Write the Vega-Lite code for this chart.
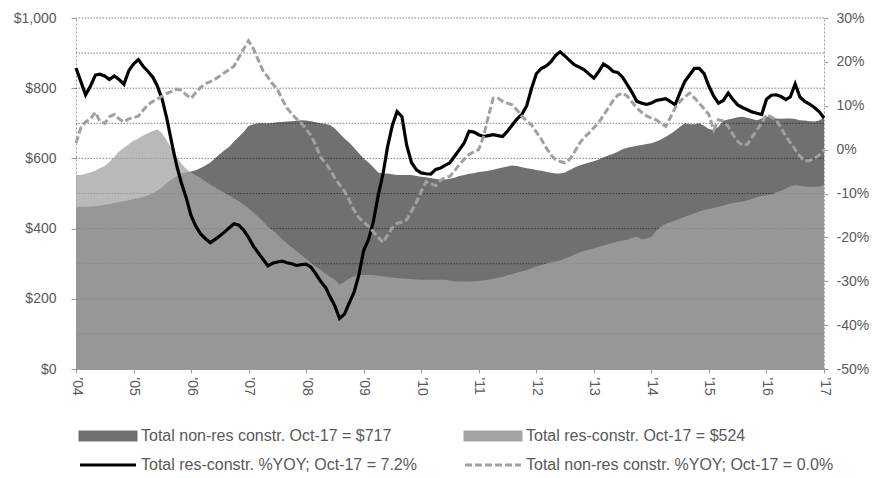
{
  "$schema": "https://vega.github.io/schema/vega-lite/v6.json",
  "width": 748,
  "height": 351,
  "autosize": {"type": "none"},
  "padding": {"left": 76, "top": 18, "right": 50, "bottom": 109},
  "config": {
    "font": "Liberation Sans",
    "view": {"stroke": null},
    "axis": {"labelFont": "Liberation Sans", "labelFontSize": 14, "labelColor": "#595959", "domainColor": "#999999", "tickColor": "#999999"}
  },
  "data": {"values": [
{"d":"2004-10-01","nr":462,"r":553,"ry":18.6,"nry":1.5},
{"d":"2004-11-01","nr":462,"r":553,"ry":15.5,"nry":5.0},
{"d":"2004-12-01","nr":462,"r":556,"ry":12.5,"nry":6.3},
{"d":"2005-01-01","nr":463,"r":560,"ry":14.5,"nry":7.0},
{"d":"2005-02-01","nr":464,"r":565,"ry":17.0,"nry":8.5},
{"d":"2005-03-01","nr":466,"r":572,"ry":17.2,"nry":6.5},
{"d":"2005-04-01","nr":468,"r":578,"ry":16.8,"nry":6.0},
{"d":"2005-05-01","nr":470,"r":590,"ry":16.0,"nry":7.5},
{"d":"2005-06-01","nr":473,"r":605,"ry":16.8,"nry":8.0},
{"d":"2005-07-01","nr":476,"r":620,"ry":16.0,"nry":7.0},
{"d":"2005-08-01","nr":478,"r":630,"ry":14.9,"nry":6.3},
{"d":"2005-09-01","nr":481,"r":640,"ry":18.0,"nry":7.0},
{"d":"2005-10-01","nr":484,"r":650,"ry":19.5,"nry":7.3},
{"d":"2005-11-01","nr":487,"r":657,"ry":20.5,"nry":7.6},
{"d":"2005-12-01","nr":491,"r":665,"ry":19.0,"nry":9.0},
{"d":"2006-01-01","nr":495,"r":672,"ry":17.8,"nry":10.2},
{"d":"2006-02-01","nr":500,"r":678,"ry":16.5,"nry":11.0},
{"d":"2006-03-01","nr":508,"r":682,"ry":14.5,"nry":11.5},
{"d":"2006-04-01","nr":518,"r":672,"ry":11.5,"nry":12.2},
{"d":"2006-05-01","nr":530,"r":650,"ry":7.0,"nry":12.8},
{"d":"2006-06-01","nr":540,"r":628,"ry":1.5,"nry":13.3},
{"d":"2006-07-01","nr":550,"r":605,"ry":-3.5,"nry":13.8},
{"d":"2006-08-01","nr":556,"r":585,"ry":-7.6,"nry":13.5},
{"d":"2006-09-01","nr":560,"r":570,"ry":-11.0,"nry":12.5},
{"d":"2006-10-01","nr":563,"r":560,"ry":-15.0,"nry":11.7},
{"d":"2006-11-01","nr":566,"r":552,"ry":-17.5,"nry":13.0},
{"d":"2006-12-01","nr":573,"r":544,"ry":-19.2,"nry":14.2},
{"d":"2007-01-01","nr":580,"r":535,"ry":-20.3,"nry":15.0},
{"d":"2007-02-01","nr":588,"r":525,"ry":-21.2,"nry":15.5},
{"d":"2007-03-01","nr":600,"r":518,"ry":-20.5,"nry":16.0},
{"d":"2007-04-01","nr":612,"r":510,"ry":-19.7,"nry":16.8},
{"d":"2007-05-01","nr":623,"r":502,"ry":-18.8,"nry":17.5},
{"d":"2007-06-01","nr":633,"r":494,"ry":-17.8,"nry":18.3},
{"d":"2007-07-01","nr":648,"r":486,"ry":-16.9,"nry":19.0},
{"d":"2007-08-01","nr":662,"r":478,"ry":-17.2,"nry":21.0},
{"d":"2007-09-01","nr":676,"r":468,"ry":-18.4,"nry":23.0},
{"d":"2007-10-01","nr":692,"r":458,"ry":-20.0,"nry":24.8},
{"d":"2007-11-01","nr":697,"r":446,"ry":-22.0,"nry":23.0},
{"d":"2007-12-01","nr":700,"r":434,"ry":-23.5,"nry":20.5},
{"d":"2008-01-01","nr":700,"r":420,"ry":-25.0,"nry":18.0},
{"d":"2008-02-01","nr":700,"r":405,"ry":-26.5,"nry":16.5},
{"d":"2008-03-01","nr":701,"r":395,"ry":-25.9,"nry":15.0},
{"d":"2008-04-01","nr":703,"r":384,"ry":-25.6,"nry":13.8},
{"d":"2008-05-01","nr":704,"r":370,"ry":-25.4,"nry":11.5},
{"d":"2008-06-01","nr":705,"r":358,"ry":-25.8,"nry":9.5},
{"d":"2008-07-01","nr":706,"r":347,"ry":-26.0,"nry":8.2},
{"d":"2008-08-01","nr":707,"r":336,"ry":-26.4,"nry":7.0},
{"d":"2008-09-01","nr":709,"r":325,"ry":-26.2,"nry":6.0},
{"d":"2008-10-01","nr":708,"r":314,"ry":-26.1,"nry":4.7},
{"d":"2008-11-01","nr":706,"r":303,"ry":-26.8,"nry":3.2},
{"d":"2008-12-01","nr":703,"r":292,"ry":-28.3,"nry":1.0},
{"d":"2009-01-01","nr":700,"r":282,"ry":-30.0,"nry":-1.8},
{"d":"2009-02-01","nr":698,"r":272,"ry":-31.4,"nry":-3.0},
{"d":"2009-03-01","nr":695,"r":263,"ry":-33.5,"nry":-4.5},
{"d":"2009-04-01","nr":685,"r":254,"ry":-35.6,"nry":-6.5},
{"d":"2009-05-01","nr":671,"r":240,"ry":-38.5,"nry":-8.0},
{"d":"2009-06-01","nr":657,"r":248,"ry":-37.5,"nry":-9.5},
{"d":"2009-07-01","nr":645,"r":258,"ry":-35.0,"nry":-11.5},
{"d":"2009-08-01","nr":630,"r":264,"ry":-32.5,"nry":-13.8},
{"d":"2009-09-01","nr":615,"r":268,"ry":-28.5,"nry":-15.5},
{"d":"2009-10-01","nr":600,"r":268,"ry":-23.0,"nry":-16.5},
{"d":"2009-11-01","nr":588,"r":268,"ry":-20.5,"nry":-17.5},
{"d":"2009-12-01","nr":575,"r":268,"ry":-16.5,"nry":-18.7},
{"d":"2010-01-01","nr":560,"r":266,"ry":-10.5,"nry":-20.0},
{"d":"2010-02-01","nr":557,"r":264,"ry":-5.5,"nry":-21.2},
{"d":"2010-03-01","nr":557,"r":263,"ry":0.5,"nry":-19.5},
{"d":"2010-04-01","nr":555,"r":261,"ry":5.5,"nry":-17.8},
{"d":"2010-05-01","nr":553,"r":259,"ry":8.7,"nry":-16.8},
{"d":"2010-06-01","nr":553,"r":258,"ry":7.5,"nry":-16.5},
{"d":"2010-07-01","nr":553,"r":257,"ry":1.0,"nry":-16.0},
{"d":"2010-08-01","nr":553,"r":256,"ry":-3.0,"nry":-14.0},
{"d":"2010-09-01","nr":550,"r":255,"ry":-4.6,"nry":-12.0},
{"d":"2010-10-01","nr":548,"r":254,"ry":-5.3,"nry":-9.5},
{"d":"2010-11-01","nr":546,"r":254,"ry":-5.5,"nry":-7.3},
{"d":"2010-12-01","nr":544,"r":254,"ry":-5.6,"nry":-7.8},
{"d":"2011-01-01","nr":541,"r":254,"ry":-4.5,"nry":-8.2},
{"d":"2011-02-01","nr":540,"r":254,"ry":-4.2,"nry":-7.0},
{"d":"2011-03-01","nr":540,"r":254,"ry":-3.6,"nry":-6.4},
{"d":"2011-04-01","nr":542,"r":252,"ry":-3.0,"nry":-6.1},
{"d":"2011-05-01","nr":545,"r":249,"ry":-1.5,"nry":-4.8},
{"d":"2011-06-01","nr":550,"r":249,"ry":0.0,"nry":-3.4},
{"d":"2011-07-01","nr":553,"r":249,"ry":1.5,"nry":-2.2},
{"d":"2011-08-01","nr":556,"r":249,"ry":4.2,"nry":-1.1},
{"d":"2011-09-01","nr":558,"r":250,"ry":4.0,"nry":-0.5},
{"d":"2011-10-01","nr":561,"r":251,"ry":3.4,"nry":0.0},
{"d":"2011-11-01","nr":563,"r":253,"ry":3.0,"nry":3.0},
{"d":"2011-12-01","nr":565,"r":254,"ry":3.2,"nry":7.5},
{"d":"2012-01-01","nr":568,"r":257,"ry":3.4,"nry":11.7},
{"d":"2012-02-01","nr":571,"r":260,"ry":3.2,"nry":11.7},
{"d":"2012-03-01","nr":574,"r":263,"ry":3.0,"nry":11.0},
{"d":"2012-04-01","nr":577,"r":267,"ry":4.2,"nry":10.6},
{"d":"2012-05-01","nr":580,"r":271,"ry":5.6,"nry":10.2},
{"d":"2012-06-01","nr":578,"r":275,"ry":7.0,"nry":9.0},
{"d":"2012-07-01","nr":575,"r":278,"ry":8.0,"nry":7.6},
{"d":"2012-08-01","nr":572,"r":282,"ry":10.0,"nry":6.5},
{"d":"2012-09-01","nr":570,"r":287,"ry":14.0,"nry":5.6},
{"d":"2012-10-01","nr":567,"r":292,"ry":17.3,"nry":4.0},
{"d":"2012-11-01","nr":565,"r":296,"ry":18.5,"nry":2.4},
{"d":"2012-12-01","nr":562,"r":300,"ry":19.0,"nry":0.5},
{"d":"2013-01-01","nr":559,"r":304,"ry":20.0,"nry":-1.2},
{"d":"2013-02-01","nr":557,"r":306,"ry":21.5,"nry":-2.3},
{"d":"2013-03-01","nr":557,"r":310,"ry":22.3,"nry":-2.7},
{"d":"2013-04-01","nr":560,"r":315,"ry":21.3,"nry":-3.0},
{"d":"2013-05-01","nr":567,"r":320,"ry":20.3,"nry":-2.2},
{"d":"2013-06-01","nr":574,"r":326,"ry":19.3,"nry":-0.5},
{"d":"2013-07-01","nr":580,"r":332,"ry":18.8,"nry":1.4},
{"d":"2013-08-01","nr":584,"r":337,"ry":18.2,"nry":2.8},
{"d":"2013-09-01","nr":588,"r":340,"ry":17.2,"nry":3.8},
{"d":"2013-10-01","nr":592,"r":344,"ry":16.3,"nry":5.0},
{"d":"2013-11-01","nr":597,"r":348,"ry":17.8,"nry":6.2},
{"d":"2013-12-01","nr":603,"r":352,"ry":19.5,"nry":7.8},
{"d":"2014-01-01","nr":608,"r":356,"ry":18.8,"nry":9.5},
{"d":"2014-02-01","nr":613,"r":359,"ry":17.8,"nry":11.2},
{"d":"2014-03-01","nr":619,"r":363,"ry":17.6,"nry":12.4},
{"d":"2014-04-01","nr":626,"r":366,"ry":16.5,"nry":12.9},
{"d":"2014-05-01","nr":630,"r":368,"ry":14.8,"nry":12.2},
{"d":"2014-06-01","nr":633,"r":374,"ry":13.0,"nry":10.8},
{"d":"2014-07-01","nr":636,"r":377,"ry":11.0,"nry":9.5},
{"d":"2014-08-01","nr":638,"r":370,"ry":10.6,"nry":8.5},
{"d":"2014-09-01","nr":641,"r":372,"ry":10.3,"nry":7.7},
{"d":"2014-10-01","nr":643,"r":377,"ry":10.6,"nry":7.2},
{"d":"2014-11-01","nr":648,"r":394,"ry":11.2,"nry":6.8},
{"d":"2014-12-01","nr":654,"r":405,"ry":11.4,"nry":6.0},
{"d":"2015-01-01","nr":662,"r":414,"ry":11.6,"nry":5.3},
{"d":"2015-02-01","nr":670,"r":419,"ry":10.9,"nry":7.5},
{"d":"2015-03-01","nr":679,"r":423,"ry":10.2,"nry":9.5},
{"d":"2015-04-01","nr":690,"r":429,"ry":13.0,"nry":11.0},
{"d":"2015-05-01","nr":700,"r":434,"ry":15.5,"nry":12.0},
{"d":"2015-06-01","nr":697,"r":439,"ry":17.0,"nry":12.9},
{"d":"2015-07-01","nr":697,"r":444,"ry":18.5,"nry":11.8},
{"d":"2015-08-01","nr":700,"r":449,"ry":18.5,"nry":10.6},
{"d":"2015-09-01","nr":693,"r":453,"ry":17.3,"nry":9.3},
{"d":"2015-10-01","nr":684,"r":456,"ry":14.5,"nry":8.0},
{"d":"2015-11-01","nr":681,"r":459,"ry":12.2,"nry":4.5},
{"d":"2015-12-01","nr":690,"r":462,"ry":10.6,"nry":6.8},
{"d":"2016-01-01","nr":707,"r":466,"ry":11.2,"nry":6.5},
{"d":"2016-02-01","nr":711,"r":470,"ry":12.9,"nry":5.3},
{"d":"2016-03-01","nr":714,"r":473,"ry":11.5,"nry":3.5},
{"d":"2016-04-01","nr":717,"r":475,"ry":10.2,"nry":1.9},
{"d":"2016-05-01","nr":719,"r":477,"ry":9.6,"nry":1.0},
{"d":"2016-06-01","nr":716,"r":480,"ry":9.1,"nry":1.2},
{"d":"2016-07-01","nr":712,"r":485,"ry":8.6,"nry":2.8},
{"d":"2016-08-01","nr":709,"r":490,"ry":8.3,"nry":4.5},
{"d":"2016-09-01","nr":714,"r":493,"ry":8.0,"nry":6.1},
{"d":"2016-10-01","nr":719,"r":495,"ry":11.5,"nry":8.0},
{"d":"2016-11-01","nr":717,"r":497,"ry":12.4,"nry":7.4},
{"d":"2016-12-01","nr":714,"r":503,"ry":12.5,"nry":6.8},
{"d":"2017-01-01","nr":713,"r":508,"ry":12.1,"nry":5.0},
{"d":"2017-02-01","nr":714,"r":514,"ry":11.4,"nry":3.0},
{"d":"2017-03-01","nr":714,"r":520,"ry":12.0,"nry":1.6},
{"d":"2017-04-01","nr":712,"r":524,"ry":15.0,"nry":0.0},
{"d":"2017-05-01","nr":709,"r":522,"ry":12.0,"nry":-1.5},
{"d":"2017-06-01","nr":708,"r":520,"ry":11.0,"nry":-2.6},
{"d":"2017-07-01","nr":706,"r":519,"ry":10.4,"nry":-2.5},
{"d":"2017-08-01","nr":705,"r":519,"ry":9.6,"nry":-2.0},
{"d":"2017-09-01","nr":708,"r":520,"ry":8.6,"nry":-1.2},
{"d":"2017-10-01","nr":717,"r":524,"ry":7.2,"nry":0.0}
  ]},
  "layer": [
    {
      "layer": [
        {
          "mark": {"type": "area"},
          "encoding": {
            "x": {"field": "d", "type": "temporal",
              "scale": {"type": "utc", "domain": [{"year": 2004, "month": 10, "date": 1, "utc": true}, {"year": 2017, "month": 10, "date": 1, "utc": true}]},
              "axis": {"title": null, "labelExpr": "\"'\" + utcFormat(datum.value, '%y')", "labelAngle": 90, "grid": false, "tickSize": 4, "labelPadding": 4,
                "values": [
                  {"year": 2004, "month": 10, "date": 1, "utc": true},
                  {"year": 2005, "month": 10, "date": 1, "utc": true},
                  {"year": 2006, "month": 10, "date": 1, "utc": true},
                  {"year": 2007, "month": 10, "date": 1, "utc": true},
                  {"year": 2008, "month": 10, "date": 1, "utc": true},
                  {"year": 2009, "month": 10, "date": 1, "utc": true},
                  {"year": 2010, "month": 10, "date": 1, "utc": true},
                  {"year": 2011, "month": 10, "date": 1, "utc": true},
                  {"year": 2012, "month": 10, "date": 1, "utc": true},
                  {"year": 2013, "month": 10, "date": 1, "utc": true},
                  {"year": 2014, "month": 10, "date": 1, "utc": true},
                  {"year": 2015, "month": 10, "date": 1, "utc": true},
                  {"year": 2016, "month": 10, "date": 1, "utc": true},
                  {"year": 2017, "month": 10, "date": 1, "utc": true}
                ]}},
            "y": {"field": "nr", "type": "quantitative", "scale": {"domain": [0, 1000]},
              "axis": {"orient": "left", "title": null, "grid": false, "values": [0, 100, 200, 300, 400, 500, 600, 700, 800, 900, 1000], "format": "$,.0f", "tickSize": 5, "labelPadding": 15, "domainDash": [2, 2]}},
            "color": {"datum": "Total non-res constr. Oct-17 = $717",
              "scale": {"domain": ["Total non-res constr. Oct-17 = $717", "Total res-constr. %YOY; Oct-17 = 7.2%", "Total res-constr. Oct-17 = $524", "Total non-res constr. %YOY; Oct-17 = 0.0%"],
                        "range": ["#707070", "#000000", "#a3a3a3", "#a0a0a0"]},
              "legend": {
                "orient": "none", "legendX": 24, "legendY": 410, "columns": 2, "columnPadding": 42, "rowPadding": 11, "title": null,
                "symbolType": "stroke", "symbolSize": 64, "symbolStrokeWidth": 3, "labelOffset": 25,
                "labelFontSize": 16, "labelColor": "#595959", "labelFont": "Liberation Sans", "labelLimit": 0,
                "encode": {"symbols": {"update": {
                  "shape": {"signal": "datum.index == 0 || datum.index == 2 ? 'M-7,-1H7V1H-7Z' : 'M-7,0H7'"},
                  "fill": {"signal": "datum.index == 0 ? '#707070' : datum.index == 2 ? '#bdbdbd' : 'transparent'"},
                  "stroke": {"signal": "datum.index == 1 ? '#000000' : datum.index == 3 ? '#a0a0a0' : 'transparent'"},
                  "strokeDash": {"signal": "datum.index == 3 ? [7, 3] : []"},
                  "strokeWidth": {"value": 3},
                  "opacity": {"value": 1}
                }}}
              }}
          }
        },
        {
          "data": {"values": [{"g": 100}, {"g": 200}, {"g": 300}, {"g": 400}, {"g": 500}, {"g": 600}, {"g": 700}, {"g": 800}, {"g": 900}, {"g": 1000}]},
          "mark": {"type": "rule", "stroke": "#000000", "strokeOpacity": 0.5, "strokeDash": [1.5, 1.5], "strokeWidth": 1},
          "encoding": {"y": {"field": "g", "type": "quantitative"}}
        },
        {
          "mark": {"type": "area", "opacity": 0.76},
          "encoding": {
            "x": {"field": "d", "type": "temporal"},
            "y": {"field": "r", "type": "quantitative"},
            "color": {"datum": "Total res-constr. Oct-17 = $524"}
          }
        }
      ]
    },
    {
      "layer": [
        {
          "mark": {"type": "line", "strokeWidth": 3.2},
          "encoding": {
            "x": {"field": "d", "type": "temporal"},
            "y": {"field": "ry", "type": "quantitative", "scale": {"domain": [-50, 30]},
              "axis": {"orient": "right", "title": null, "grid": false, "values": [-50, -40, -30, -20, -10, 0, 10, 20, 30], "labelExpr": "datum.value + '%'", "tickSize": 4, "labelPadding": 8, "domainDash": [2, 2]}},
            "color": {"datum": "Total res-constr. %YOY; Oct-17 = 7.2%"}
          }
        },
        {
          "mark": {"type": "line", "strokeWidth": 3, "strokeDash": [7, 3]},
          "encoding": {
            "x": {"field": "d", "type": "temporal"},
            "y": {"field": "nry", "type": "quantitative"},
            "color": {"datum": "Total non-res constr. %YOY; Oct-17 = 0.0%"}
          }
        }
      ]
    }
  ],
  "resolve": {"scale": {"y": "independent"}}
}
